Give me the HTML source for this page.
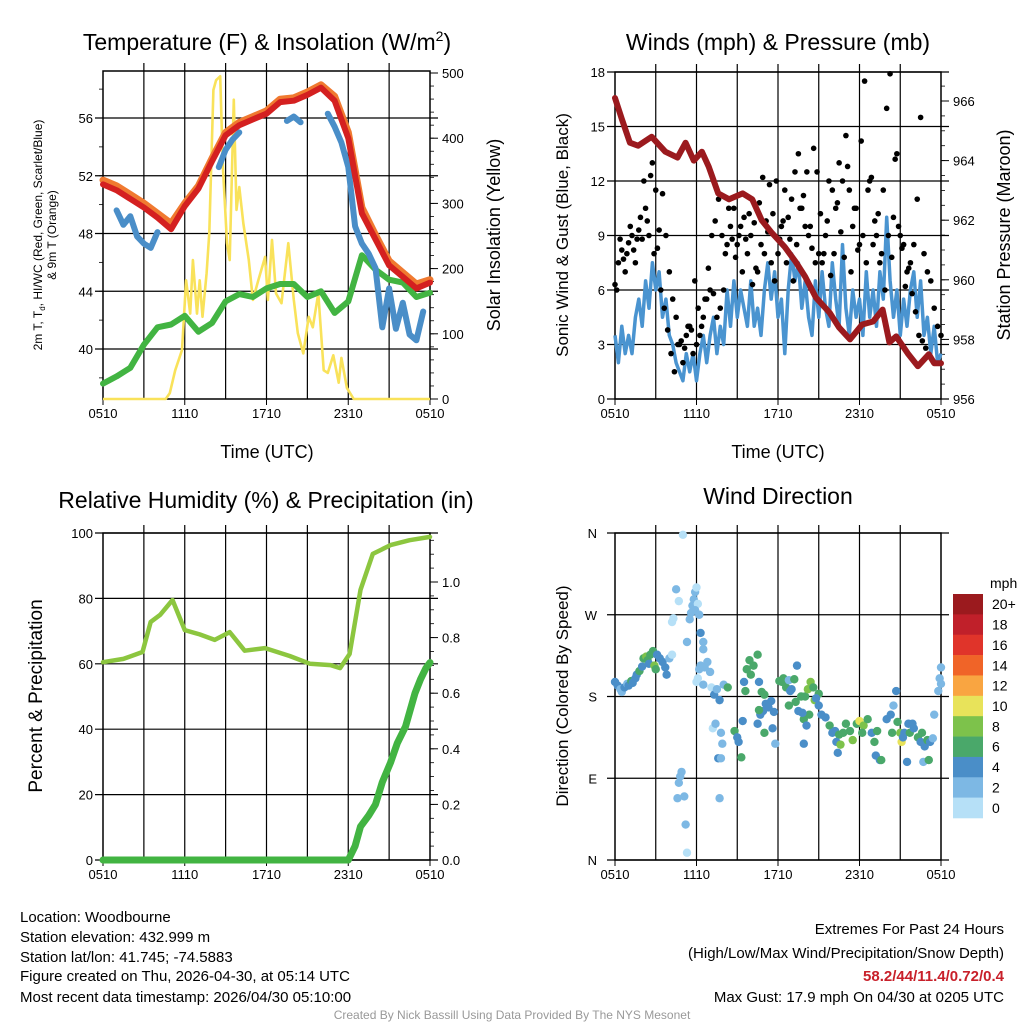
<!DOCTYPE html>
<html><head><meta charset="utf-8"><style>
html,body{margin:0;padding:0;background:#fff;}
svg{display:block;font-family:"Liberation Sans",Arial,sans-serif;}
</style></head><body>
<svg id="s" width="1024" height="1024" viewBox="0 0 1024 1024" xmlns="http://www.w3.org/2000/svg">
<g id="g1"></g>
<g id="g2"></g>
<g id="g3"></g>
<g id="g4"></g>
<g id="info" font-size="15" fill="#000">
<text x="20" y="922">Location: Woodbourne</text>
<text x="20" y="942">Station elevation: 432.999 m</text>
<text x="20" y="962">Station lat/lon: 41.745; -74.5883</text>
<text x="20" y="981">Figure created on Thu, 2026-04-30, at 05:14 UTC</text>
<text x="20" y="1002">Most recent data timestamp: 2026/04/30 05:10:00</text>
<text x="1004" y="934" text-anchor="end">Extremes For Past 24 Hours</text>
<text x="1004" y="958" text-anchor="end">(High/Low/Max Wind/Precipitation/Snow Depth)</text>
<text x="1004" y="981" text-anchor="end" fill="#c8202a" font-weight="bold">58.2/44/11.4/0.72/0.4</text>
<text x="1004" y="1002" text-anchor="end">Max Gust: 17.9 mph On 04/30 at 0205 UTC</text>
<text x="512" y="1019" text-anchor="middle" font-size="12" fill="#999">Created By Nick Bassill Using Data Provided By The NYS Mesonet</text>
</g>
</svg>
<script>
// ---------- data ----------
var xTickLabels = ["0510","1110","1710","2310","0510"];
var hourly = [0,1,2,3,4,5,6,7,8,9,10,11,12,13,14,15,16,17,18,19,20,21,22,23,24];
var tempRed = [51.4,51.0,50.4,49.8,49.1,48.3,49.9,51.1,53.0,54.8,55.5,55.9,56.3,57.1,57.2,57.6,58.1,57.2,54.6,49.4,47.6,45.8,45.0,44.2,44.6];
var tempOrange = [51.7,51.3,50.7,50.1,49.4,48.7,50.1,51.3,53.2,55.0,55.7,56.1,56.5,57.3,57.4,57.8,58.3,57.5,55.0,49.8,47.9,46.1,45.3,44.5,44.8];
var dewGreen = [37.6,38.1,38.7,40.3,41.5,41.7,42.3,41.2,41.8,43.3,43.8,43.6,44.2,44.5,44.5,43.6,44.0,42.5,43.3,46.5,45.5,44.8,44.6,43.6,43.9];
var hiwcBlue = [null,null,49.6,48.6,49.2,47.8,47.3,47.0,48.1,null,null,null,null,null,null,null,null,52.6,53.8,54.5,55.0,null,null,null,54.6,null,null,55.8,56.1,55.7,null,null,null,56.3,55.4,54.3,52.6,48.5,47.3,46.6,45.6,41.5,44.2,41.4,43.2,41.0,40.6,42.6,null];
var solarHours = [0,4.6,4.9,5.3,5.8,6.1,6.4,6.6,6.9,7.1,7.3,7.6,7.8,8.1,8.3,8.6,8.8,9.1,9.3,9.6,9.8,10.0,10.3,10.7,11.0,11.4,11.9,12.1,12.4,12.7,13.1,13.6,14.0,14.3,14.7,15.1,15.4,15.8,16.2,16.5,16.9,17.3,17.5,17.9,18.4,24];
var solarValues = [0,0,9,44,75,182,131,213,131,182,126,193,255,474,489,495,356,239,213,459,290,325,270,213,152,182,218,152,244,162,147,239,152,101,70,126,110,162,44,40,67,25,63,17,0,0];
var windSustained = [3.5,2.0,4.0,2.5,3.5,2.5,4.5,5.5,4.0,6.5,5.0,7.5,6.0,7.0,4.5,5.5,3.5,3.0,2.0,1.5,1.0,2.5,1.5,2.5,1.0,2.5,3.5,2.0,3.5,4.5,2.5,4.0,3.0,6.0,4.0,6.5,4.5,6.0,5.0,4.0,6.5,4.0,5.0,3.5,6.0,7.5,5.5,7.0,4.5,5.5,2.5,6.0,8.0,6.5,7.5,5.0,6.5,4.5,3.5,6.5,4.5,7.0,5.0,4.0,7.5,5.5,4.0,8.5,5.0,3.5,6.0,4.5,5.5,3.5,7.0,4.5,6.0,4.0,7.0,5.5,10.0,6.5,4.5,6.0,3.5,5.5,4.0,6.0,7.0,4.5,6.5,3.5,4.5,2.5,4.0,2.0,2.5];
var gustA = [6.3,7.5,8.2,7.0,8.6,9.0,7.5,9.3,8.8,10.5,9.0,13.0,11.5,9.3,11.3,9.0,7.0,5.5,4.5,3.0,2.0,3.5,4.0,2.5,3.0,3.5,4.5,5.5,6.0,5.8,4.5,5.0,6.0,8.5,9.5,10.5,8.5,9.5,10.0,8.0,9.0,9.7,7.0,8.5,8.0,9.2,7.5,6.5,8.0,9.5,11.5,10.0,11.0,12.5,13.5,10.5,9.5,9.0,8.3,7.5,8.0,7.5,9.0,12.0,11.5,10.5,13.0,12.0,14.5,11.5,9.5,10.5,8.5,9.0,7.5,12.0,8.5,9.0,7.5,11.5,16.0,17.9,10.0,13.5,9.0,8.5,7.0,7.5,8.5,11.0,15.5,8.0,7.0,6.5,5.0,4.0,3.5];
var gustB = [6.0,8.8,7.7,8.0,9.5,8.2,8.8,10.0,12.0,9.8,12.3,8.0,8.3,6.0,5.0,3.8,2.5,1.5,3.0,3.2,2.8,4.0,3.8,6.5,5.0,4.0,5.5,7.2,9.0,9.8,11.0,9.0,8.0,10.5,8.8,7.8,9.0,7.0,8.8,10.2,6.3,7.2,10.8,12.2,9.8,11.8,10.2,12.0,8.8,9.8,7.5,8.8,6.5,8.5,10.5,11.2,12.5,9.5,13.8,12.5,10.2,8.0,9.8,6.8,8.0,10.8,9.2,7.8,12.8,7.0,10.5,8.2,14.2,17.5,11.5,12.2,9.8,10.2,8.0,6.0,9.0,7.8,13.2,9.5,8.3,6.2,7.2,5.8,4.8,3.5,3.2,2.8];
var pressHours = [0,0.5,1.1,1.7,2.7,3.7,4.6,5.2,5.8,6.4,6.9,7.6,8.4,9.4,10.1,10.8,11.5,12.5,13.3,14.0,14.8,15.8,16.5,17.3,18.2,19.0,19.7,20.2,20.7,21.6,22.3,23.1,23.5,24];
var pressValues = [966.1,965.4,964.6,964.5,964.8,964.3,964.1,964.6,964.0,964.3,963.8,962.9,962.7,962.9,962.7,962.0,961.6,961.1,960.6,960.1,959.4,958.9,958.4,958.0,958.5,958.6,959.0,957.9,958.1,957.5,957.1,957.5,957.2,957.2];
var rhHours = [0,1.5,2.9,3.5,4.2,5.1,6.0,7.1,8.2,9.3,10.4,11.9,13.7,15.2,16.7,17.4,18.1,18.9,19.8,21.1,22.5,24];
var rhValues = [60.5,61.5,63.6,72.8,75,79.5,70.3,69,67.3,69.7,64,64.8,62.4,60,59.6,58.7,63,82.6,93.6,96.3,97.8,98.8];
var precipHours = [0,18.0,18.5,18.9,19.5,20.0,20.5,21.1,21.6,22.2,22.9,23.3,23.7,24];
var precipValues = [0,0,0.05,0.12,0.16,0.2,0.28,0.35,0.42,0.48,0.6,0.65,0.69,0.71];
var dirHours = [0,0.2,0.4,0.5,0.7,0.9,1.0,1.2,1.3,1.5,1.6,1.8,2.0,2.1,2.3,2.4,2.5,2.6,2.8,2.9,3.0,3.1,3.3,3.5,3.7,3.8,4.0,4.2,4.2,4.3,4.5,4.7,5.0,5.3,5.5,5.6,5.7,5.8,5.9,6.0,6.1,5.9,6.2,4.9,4.8,4.7,4.6,5.1,5.2,5.3,6.3,6.5,6.5,6.3,6.2,6.6,6.8,6.1,6.0,6.5,7.0,7.1,7.3,7.5,7.7,7.2,7.4,7.8,7.9,7.6,7.8,7.7,8.0,8.3,8.8,9.0,9.1,9.3,9.4,9.5,9.6,9.7,9.9,10.0,10.2,10.5,10.6,10.8,11.0,10.9,11.1,11.3,10.7,10.5,10.6,11.5,11.7,11.0,11.8,11.6,12.1,12.3,12.6,12.9,12.4,12.8,13.0,13.2,13.4,13.3,13.7,14.0,14.2,14.4,14.6,14.3,13.9,14.1,14.7,15.0,14.8,13.8,13.5,12.8,15.0,13.9,15.2,15.5,15.8,16.0,16.2,16.5,16.8,16.3,16.6,16.4,17.0,17.3,17.5,17.8,18.0,18.3,18.6,18.9,19.1,19.3,19.2,19.5,19.6,18.2,20.0,20.3,20.5,20.7,20.8,21.0,21.1,21.3,21.6,21.7,21.5,21.9,22.0,22.3,22.5,22.6,22.8,23.0,23.2,23.4,22.7,23.1,23.5,23.8,24.0,23.9,24.0,20.4,21.2];
var dirDegrees = [196,192,188,185,190,194,192,197,195,200,204,208,213,222,224,220,216,226,230,214,210,226,222,218,212,204,222,226,262,266,298,285,358,240,265,272,280,287,295,300,282,275,270,97,92,85,68,70,39,8,250,240,232,214,210,212,218,200,196,193,207,190,182,188,176,145,150,140,128,112,112,68,193,190,142,135,130,113,153,196,186,210,220,204,214,226,196,185,182,164,172,168,160,150,165,175,163,140,128,145,197,196,190,186,200,198,188,199,214,174,180,180,188,196,190,160,155,148,176,183,178,162,164,170,170,128,160,157,148,140,142,138,140,130,127,118,150,142,132,150,153,148,155,140,130,142,115,110,110,140,155,160,170,186,152,140,130,140,150,140,108,150,145,135,130,140,125,132,130,134,108,110,160,186,194,200,212,140,135];
var dirSpeeds = [4,5,3,3,4,3,5,7,5,5,5,7,5,7,9,7,5,7,7,9,7,5,5,5,5,5,3,1,1,1,3,1,1,2,3,3,3,3,2,1,1,3,3,3,3,3,3,3,3,1,5,3,3,3,3,3,3,1,1,3,3,1,5,3,5,1,3,3,3,5,3,3,3,7,7,5,5,7,5,5,7,7,7,7,7,7,5,7,7,5,5,5,5,5,7,5,5,7,3,5,7,7,7,5,7,3,5,7,5,7,7,7,9,9,7,7,7,5,9,7,5,5,5,7,5,5,5,5,7,5,5,7,7,5,9,5,7,7,9,7,11,9,7,5,7,7,5,5,7,7,5,5,3,5,7,9,11,5,5,7,5,5,5,7,5,7,5,7,5,3,3,7,3,3,3,3,3,7,5];
var speedBins = ["0","2","4","6","8","10","12","14","16","18","20+"];
var speedColors = ["#b6e0f7","#7db8e4","#4a8ec8","#4aa86a","#7dc24b","#e8e35a","#f9a541","#f06428","#e0342a","#c0202a","#9b1a1e"];

// ---------- helpers ----------
var NS="http://www.w3.org/2000/svg";
function mk(parent,tag,attrs){var e=document.createElementNS(NS,tag);for(var k in attrs)e.setAttribute(k,attrs[k]);parent.appendChild(e);return e;}
function txt(parent,x,y,s,size,anchor,rot){var t=mk(parent,"text",{x:x,y:y,"font-size":size,"text-anchor":anchor||"middle",fill:"#000"});if(rot)t.setAttribute("transform","rotate("+rot+" "+x+" "+y+")");t.textContent=s;return t;}
function lin(a0,a1,p0,p1){return function(v){return p0+(v-a0)*(p1-p0)/(a1-a0);};}
function pathFrom(xs,ys,fx,fy){var d="",pen=false;for(var i=0;i<xs.length;i++){if(ys[i]===null||ys[i]===undefined){pen=false;continue;}d+=(pen?"L":"M")+fx(xs[i]).toFixed(1)+" "+fy(ys[i]).toFixed(1)+" ";pen=true;}return d;}
function frameAndX(g,L,R,T,B,fx){
  var f=mk(g,"rect",{x:L,y:T,width:R-L,height:B-T,fill:"none",stroke:"#000","stroke-width":1.5});
  
  
  for(var h=3;h<24;h+=3){var gl=mk(g,"line",{x1:fx(h),x2:fx(h),y1:T-8,y2:B,stroke:"#000","stroke-width":1.2});
    
    }
  for(var i=0;i<xTickLabels.length;i++){var x=fx(i*6);mk(g,"line",{x1:x,x2:x,y1:B,y2:B+6,stroke:"#000"});
    var t=txt(g,x,B+19,xTickLabels[i],13);
    
    }
}
function hGrid(g,L,R,y,name){var l=mk(g,"line",{x1:L-8,x2:R+8,y1:y,y2:y,stroke:"#000","stroke-width":1.2});
  
  }
function minorTicks(g,x,ys,dir){for(var i=0;i<ys.length;i++)mk(g,"line",{x1:x,x2:x+dir*4,y1:ys[i],y2:ys[i],stroke:"#000","stroke-width":0.8});}

// ---------- Panel 1 ----------
(function(){
  var g=document.getElementById("g1"),L=103,R=430,T=71,B=399;
  var fx=lin(0,24,L,R),fy=lin(40,56,349,118),fs=lin(0,500,399,73);
  frameAndX(g,L,R,T,B,fx);
  for(var v=40;v<=56;v+=4){var y=fy(v);hGrid(g,L,R,y,'temp-grid-line');var t=txt(g,L-10,y+5,String(v),13,"end");
    
    }
  var mi=[];for(var v2=38;v2<=58;v2+=2)if(fy(v2)>T&&fy(v2)<B)mi.push(fy(v2));minorTicks(g,L,mi,-1);
  var ms=[];for(var s=0;s<=500;s+=20)ms.push(fs(s));minorTicks(g,R,ms,1);
  for(var s2=0;s2<=500;s2+=100){var ys=fs(s2);mk(g,"line",{x1:R,x2:R+8,y1:ys,y2:ys,stroke:"#000"});var t2=txt(g,R+12,ys+5,String(s2),13,"start");
    
    }
  var sol=mk(g,"path",{d:pathFrom(solarHours,solarValues,fx,fs),fill:"none",stroke:"#f9e25a","stroke-width":2.6,"stroke-linejoin":"round"});
  
  
  var dw=mk(g,"path",{d:pathFrom(hourly,dewGreen,fx,fy),fill:"none",stroke:"#42b442","stroke-width":6,"stroke-linejoin":"round","stroke-linecap":"round"});
  
  
  var bh=[];for(var i=0;i<hiwcBlue.length;i++)bh.push(i*0.5);
  var bl=mk(g,"path",{d:pathFrom(bh,hiwcBlue,fx,fy),fill:"none",stroke:"#4a8ec8","stroke-width":6,"stroke-linejoin":"round","stroke-linecap":"round"});
  
  
  var or=mk(g,"path",{d:pathFrom(hourly,tempOrange,fx,fy),fill:"none",stroke:"#f07a30","stroke-width":7,"stroke-linejoin":"round","stroke-linecap":"round"});
  
  
  var rd=mk(g,"path",{d:pathFrom(hourly,tempRed,fx,fy),fill:"none",stroke:"#d42020","stroke-width":6,"stroke-linejoin":"round","stroke-linecap":"round"});
  
  
  var ti=mk(g,"text",{x:267,y:50,"font-size":23,"text-anchor":"middle"});
  
  
  ti.innerHTML='Temperature (F) &amp; Insolation (W/m<tspan dy="-9" font-size="14">2</tspan><tspan dy="9">)</tspan>';
  var xa=txt(g,267,458,"Time (UTC)",18);
  
  
  var ya=mk(g,"text",{x:42,y:235,"font-size":12,"text-anchor":"middle",transform:"rotate(-90 42 235)"});
  
  
  ya.innerHTML='2m T, T<tspan font-size="8" dy="3">d</tspan><tspan dy="-3">, HI/WC (Red, Green, Scarlet/Blue)</tspan>';
  var ya2=txt(g,56,235,"& 9m T (Orange)",12,"middle",-90);
  
  
  var yr=txt(g,500,235,"Solar Insolation (Yellow)",18,"middle",-90);
  
  
})();

// ---------- Panel 2 ----------
(function(){
  var g=document.getElementById("g2"),L=615,R=941,T=72,B=399;
  var fx=lin(0,24,L,R),fy=lin(0,18,399,72),fp=lin(956,966,399,101);
  frameAndX(g,L,R,T,B,fx);
  for(var v=0;v<=18;v+=3){var y=fy(v);hGrid(g,L,R,y,'wind-grid-line');var t=txt(g,L-10,y+5,String(v),13,"end");
    
    }
  var mp=[];for(var p=956;p<=967;p+=0.5)if(fp(p)>T)mp.push(fp(p));minorTicks(g,R,mp,1);
  for(var p2=956;p2<=966;p2+=2){var yp=fp(p2);mk(g,"line",{x1:R,x2:R+8,y1:yp,y2:yp,stroke:"#000"});var t2=txt(g,R+12,yp+5,String(p2),13,"start");
    
    }
  var wh=[];for(var i=0;i<windSustained.length;i++)wh.push(i*0.25);
  var wl=mk(g,"path",{d:pathFrom(wh,windSustained,fx,fy),fill:"none",stroke:"#4a94d0","stroke-width":3.5,"stroke-linejoin":"round"});
  
  
  for(var a=0;a<gustA.length;a++){var c=mk(g,"circle",{cx:fx(a*0.25),cy:fy(gustA[a]),r:2.8,fill:"#000"});
    
    }
  for(var b=0;b<gustB.length;b++){var c2=mk(g,"circle",{cx:fx(0.125+b*0.25),cy:fy(gustB[b]),r:2.8,fill:"#000"});
    
    }
  var pl=mk(g,"path",{d:pathFrom(pressHours,pressValues,fx,fp),fill:"none",stroke:"#9b1a1e","stroke-width":6,"stroke-linejoin":"round","stroke-linecap":"round"});
  
  
  var ti=txt(g,778,50,"Winds (mph) & Pressure (mb)",23);
  
  
  var xa=txt(g,778,458,"Time (UTC)",18);
  
  
  var yl=txt(g,568,235,"Sonic Wind & Gust (Blue, Black)",17,"middle",-90);
  
  
  var yr=txt(g,1010,235,"Station Pressure (Maroon)",18,"middle",-90);
  
  
})();

// ---------- Panel 3 ----------
(function(){
  var g=document.getElementById("g3"),L=103,R=430,T=533,B=860;
  var fx=lin(0,24,L,R),fy=lin(0,100,860,533),fq=lin(0,1,860,582);
  frameAndX(g,L,R,T,B,fx);
  for(var v=0;v<=100;v+=20){var y=fy(v);hGrid(g,L,R,y,'rh-grid-line');var t=txt(g,L-10,y+5,String(v),13,"end");
    
    }
  var mq=[];for(var q=0;q<=1.16;q+=0.05)mq.push(fq(q));minorTicks(g,R,mq,1);
  for(var q2=0;q2<=1.001;q2+=0.2){var yq=fq(q2);mk(g,"line",{x1:R,x2:R+8,y1:yq,y2:yq,stroke:"#000"});var t2=txt(g,R+12,yq+5,q2.toFixed(1),13,"start");
    
    }
  var rh=mk(g,"path",{d:pathFrom(rhHours,rhValues,fx,fy),fill:"none",stroke:"#8cc63f","stroke-width":4.5,"stroke-linejoin":"round","stroke-linecap":"round"});
  
  
  var pr=mk(g,"path",{d:pathFrom(precipHours,precipValues,fx,fq),fill:"none",stroke:"#42b442","stroke-width":7,"stroke-linejoin":"round","stroke-linecap":"round"});
  
  
  var ti=txt(g,266,508,"Relative Humidity (%) & Precipitation (in)",23);
  
  
  var yl=txt(g,42,696,"Percent & Precipitation",19,"middle",-90);
  
  
})();

// ---------- Panel 4 ----------
(function(){
  var g=document.getElementById("g4"),L=615,R=941,T=533,B=860;
  var fx=lin(0,24,L,R),fy=lin(0,360,860,533);
  frameAndX(g,L,R,T,B,fx);
  var dl=["N","E","S","W","N"];
  for(var i=0;i<5;i++){var y=fy(i*90);hGrid(g,L,R,y,'direction-grid-line');var t=txt(g,L-18,y+5,dl[i],13,"end");
    
    }
  for(var k=0;k<dirHours.length;k++){
    var bin=Math.min(10,Math.floor(dirSpeeds[k]/2));
    var c=mk(g,"circle",{cx:fx(dirHours[k]),cy:fy(dirDegrees[k]),r:4.2,fill:speedColors[bin]});
    
    
  }
  var ti=txt(g,778,504,"Wind Direction",23);
  
  
  var yl=txt(g,568,696,"Direction (Colored By Speed)",17,"middle",-90);
  
  
  var lg=mk(g,"g",{});
  
  
  var lt=txt(lg,990,588,"mph",14,"start");
  
  
  var bh=(818-594)/11;
  for(var j=0;j<11;j++){var idx=10-j,yy=594+j*bh;
    var r=mk(lg,"rect",{x:953,y:yy,width:30,height:bh+0.3,fill:speedColors[idx]});
    
    
    var l=txt(lg,992,yy+bh/2+5,speedBins[idx],14,"start");
    
    }
})();
</script>
</body></html>
